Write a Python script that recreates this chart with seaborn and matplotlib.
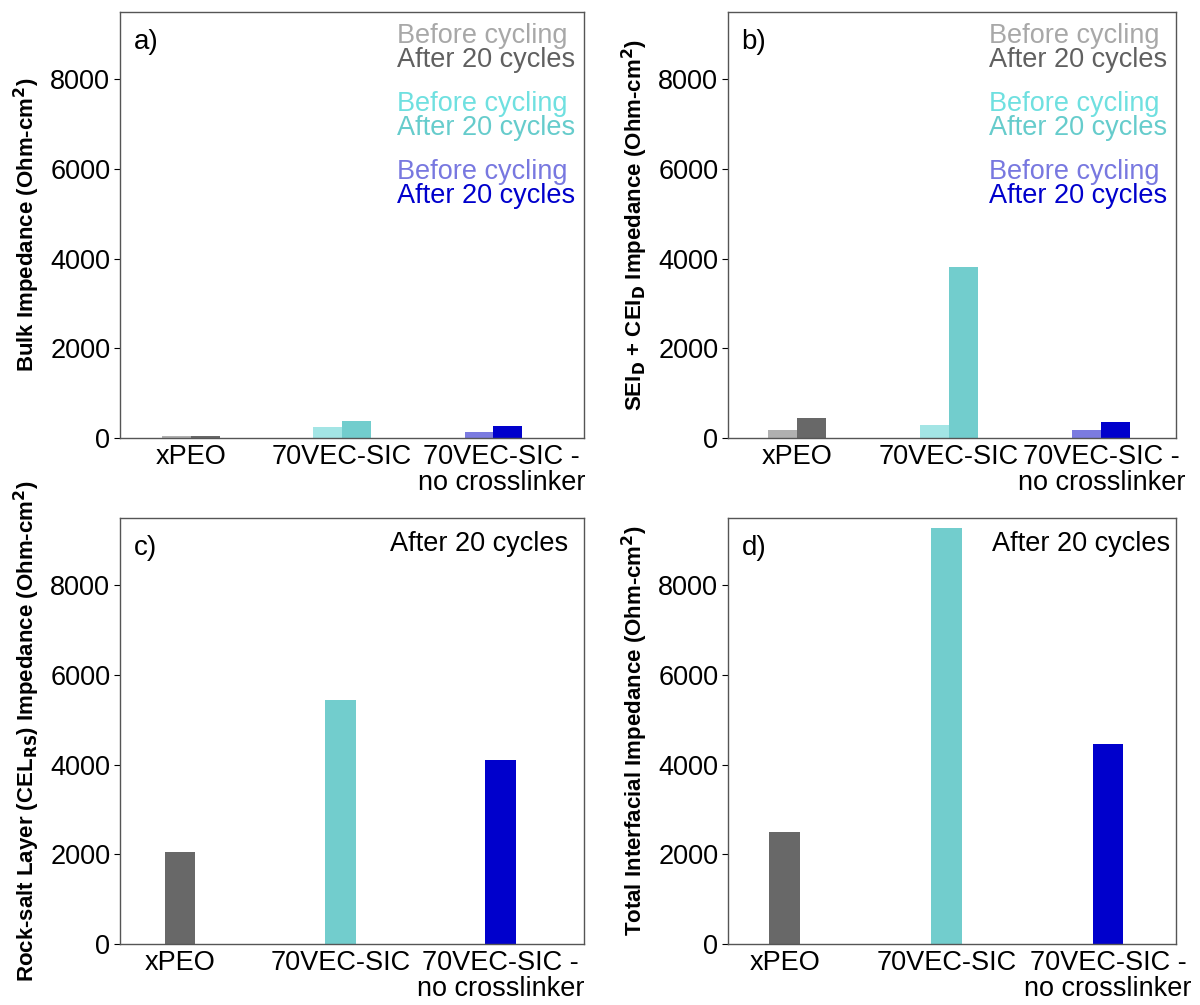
import pandas as pd
import numpy as np
import matplotlib
matplotlib.use('Agg')
import matplotlib.pyplot as plt
import matplotlib.transforms as mtransforms
import seaborn as sns

# data (Ohm-cm^2)
samples = ['xPEO', '70VEC-SIC', '70VEC-SIC -\nno crosslinker']
states = ['Before cycling', 'After 20 cycles']
bulk_before = [45, 240, 135]
bulk_after = [45, 385, 270]
sei_before = [180, 290, 180]
sei_after = [445, 3820, 350]
rocksalt_after = [2050, 5450, 4100]
total_after = [2500, 9270, 4450]

# colours per sample: (before, after)
bar_colors = [('#b0b0b0', '#686868'), ('#a3e5e5', '#72cdcd'), ('#7b7be0', '#0000cc')]
text_colors = [('#a8a8a8', '#606060'), ('#6fe0e0', '#66cccc'), ('#7878e0', '#0000cc')]

sns.set_style('white')
plt.rcParams['font.family'] = ['Liberation Sans', 'DejaVu Sans']
plt.rcParams['text.color'] = 'black'
plt.rcParams['xtick.color'] = 'black'
plt.rcParams['ytick.color'] = 'black'
plt.rcParams['mathtext.fontset'] = 'custom'
plt.rcParams['mathtext.rm'] = 'Liberation Sans Narrow:bold'
plt.rcParams['mathtext.bf'] = 'Liberation Sans Narrow:bold'
plt.rcParams['mathtext.it'] = 'Liberation Sans Narrow:bold'

LABEL_FONT = dict(family=['Liberation Sans Narrow', 'Liberation Sans', 'DejaVu Sans'],
                  fontweight='bold', fontsize=16, color='black')

fig = plt.figure(figsize=(12, 10.05), dpi=100)
W, H = 1200, 1005


def make_axes(left, top, right, bottom):
    return fig.add_axes([left / W, 1 - bottom / H, (right - left) / W, (bottom - top) / H])


ax_a = make_axes(120, 12, 584, 438)
ax_b = make_axes(728, 12, 1176, 438)
ax_c = make_axes(120, 518, 584, 944)
ax_d = make_axes(728, 518, 1176, 944)


def paired_bars(ax, before, after, legend_x):
    df = pd.DataFrame({
        'sample': samples * 2,
        'state': [states[0]] * 3 + [states[1]] * 3,
        'value': before + after,
    })
    sns.barplot(data=df, x='sample', y='value', hue='state', order=samples,
                hue_order=states, width=0.38, dodge=True, legend=False,
                linewidth=0, saturation=1, ax=ax)
    # patches come per hue level, then per sample
    for i, patch in enumerate(ax.patches[:6]):
        state_idx, sample_idx = divmod(i, 3)
        patch.set_facecolor(bar_colors[sample_idx][state_idx])
    # stacked coloured text legend
    ys = [0.944, 0.887, 0.784, 0.728, 0.624, 0.568]
    k = 0
    for s in range(3):
        for st in range(2):
            ax.text(legend_x, ys[k], states[st], transform=ax.transAxes, ha='left',
                    va='center', fontsize=19.5, color=text_colors[s][st])
            k += 1


def single_bars(ax, values, text_x):
    sns.barplot(x=samples, y=values, hue=samples, order=samples,
                palette=[c[1] for c in bar_colors], width=0.19, legend=False,
                linewidth=0, saturation=1, ax=ax)
    ax.text(text_x, 0.94, 'After 20 cycles', transform=ax.transAxes, ha='right',
            va='center', fontsize=19.5, color='black')


paired_bars(ax_a, bulk_before, bulk_after, 0.597)
paired_bars(ax_b, sei_before, sei_after, 0.582)
single_bars(ax_c, rocksalt_after, 0.966)
single_bars(ax_d, total_after, 0.987)

ax_a.set_xlim(-0.47, 2.6)
ax_b.set_xlim(-0.45, 2.49)
ax_c.set_xlim(-0.375, 2.52)
ax_d.set_xlim(-0.35, 2.42)

ylabels = [
    r'Bulk Impedance (Ohm-cm$^2$)',
    r'SEI$_\mathrm{D}$ + CEI$_\mathrm{D}$ Impedance (Ohm-cm$^2$)',
    r'Rock-salt Layer (CEL$_\mathrm{RS}$) Impedance (Ohm-cm$^2$)',
    r'Total Interfacial Impedance (Ohm-cm$^2$)',
]

for ax, tag, lab in zip([ax_a, ax_b, ax_c, ax_d], ['a)', 'b)', 'c)', 'd)'], ylabels):
    ax.set_ylim(0, 9500)
    ax.set_yticks([0, 2000, 4000, 6000, 8000])
    ax.set_xlabel('')
    ax.set_ylabel(lab, **LABEL_FONT, labelpad=6)
    ax.tick_params(axis='y', labelsize=19.5, length=4, width=0.8, direction='out',
                   left=True, pad=3)
    ax.tick_params(axis='x', labelsize=19.5, length=0, pad=4)
    for t in ax.get_xticklabels():
        t.set_linespacing(1.0)
    for sp in ax.spines.values():
        sp.set_color('#555555')
        sp.set_linewidth(1.0)
    ax.text(0.03, 0.93, tag, transform=ax.transAxes, ha='left', va='center',
            fontsize=20, color='black')

# the two-line label sits a little to the right in panel a
shift = mtransforms.ScaledTranslation(8 / 100, 0, fig.dpi_scale_trans)
lab3 = ax_a.get_xticklabels()[2]
lab3.set_transform(lab3.get_transform() + shift)

fig.savefig('out.png', dpi=100)
